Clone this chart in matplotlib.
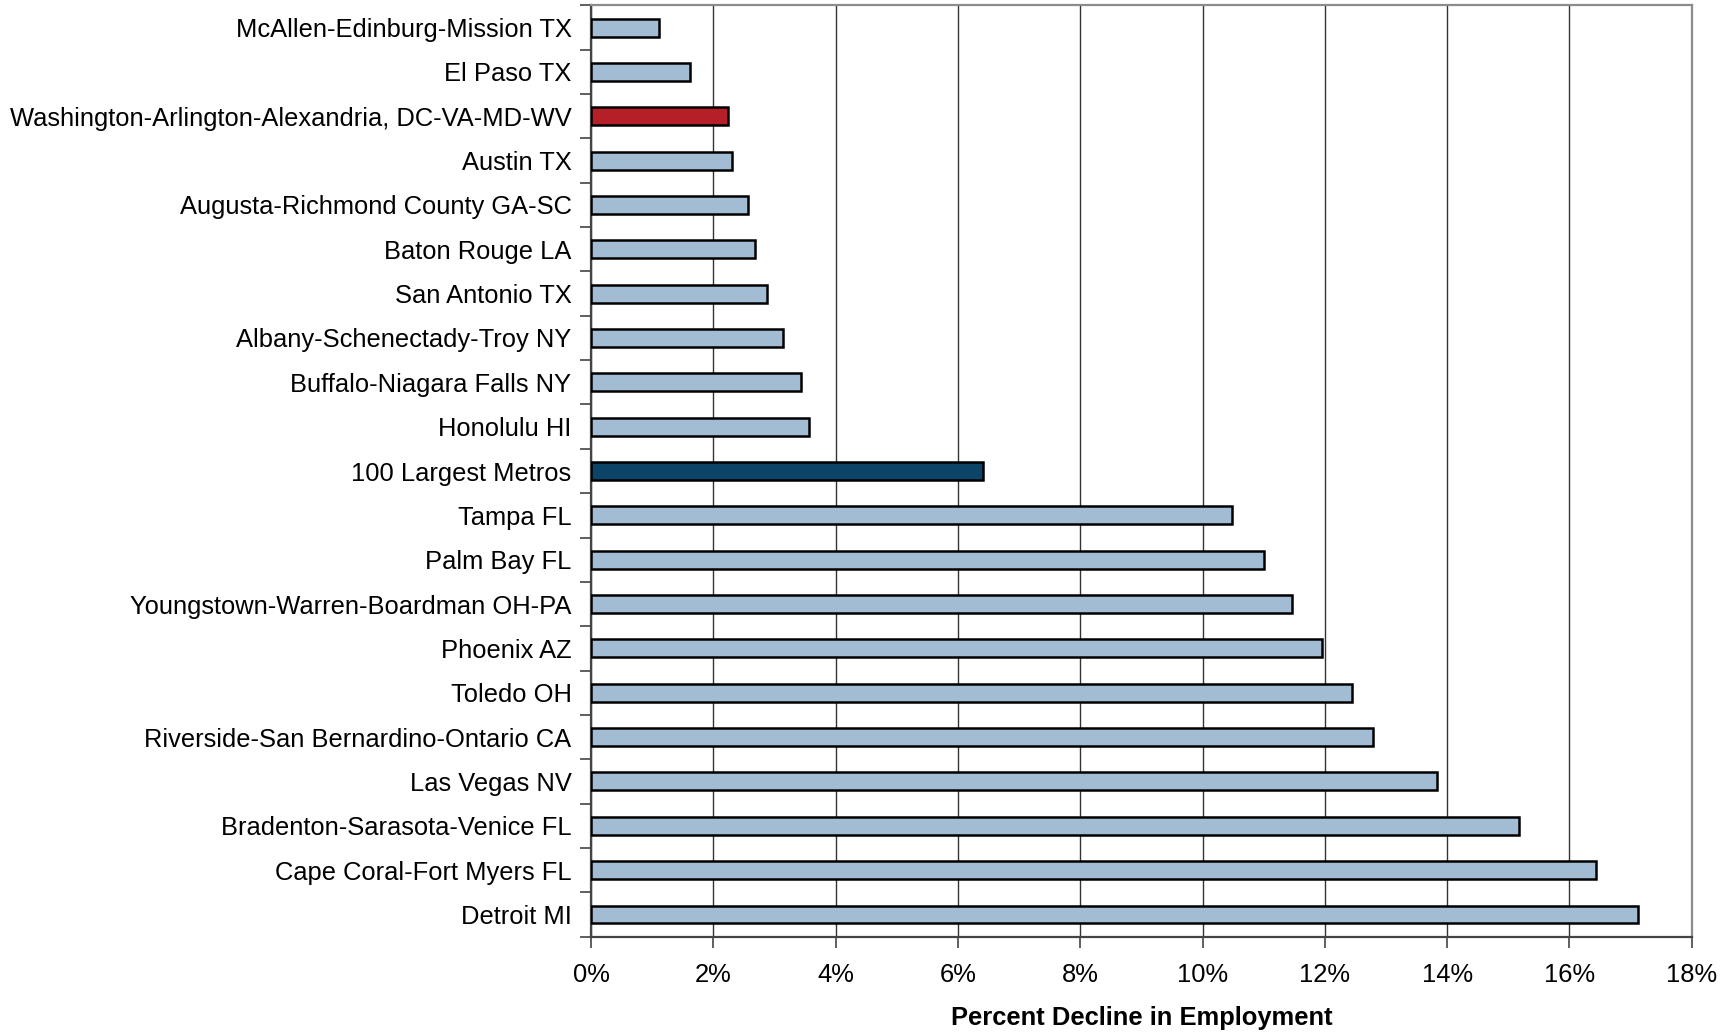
import matplotlib
matplotlib.use('Agg')
import matplotlib.pyplot as plt
import numpy as np

plt.rcParams['font.family'] = ['Liberation Sans', 'DejaVu Sans']

metros = ['McAllen-Edinburg-Mission TX', 'El Paso TX',
          'Washington-Arlington-Alexandria, DC-VA-MD-WV', 'Austin TX',
          'Augusta-Richmond County GA-SC', 'Baton Rouge LA', 'San Antonio TX',
          'Albany-Schenectady-Troy NY', 'Buffalo-Niagara Falls NY', 'Honolulu HI',
          '100 Largest Metros', 'Tampa FL', 'Palm Bay FL',
          'Youngstown-Warren-Boardman OH-PA', 'Phoenix AZ', 'Toledo OH',
          'Riverside-San Bernardino-Ontario CA', 'Las Vegas NV',
          'Bradenton-Sarasota-Venice FL', 'Cape Coral-Fort Myers FL', 'Detroit MI']
decline = [1.11, 1.62, 2.24, 2.30, 2.57, 2.69, 2.87, 3.14, 3.43, 3.57,
           6.41, 10.48, 11.00, 11.47, 11.95, 12.44, 12.78, 13.84, 15.18, 16.44, 17.12]
xticks = [0, 2, 4, 6, 8, 10, 12, 14, 16, 18]

colors = []
for m in metros:
    if m.startswith('Washington'):
        colors.append('#B51F28')
    elif m == '100 Largest Metros':
        colors.append('#0B4466')
    else:
        colors.append('#A2BCD4')

fig = plt.figure(figsize=(17.21, 10.32), dpi=100)
ax = fig.add_axes([0.3434, 0.0925, 0.6396, 0.9022])

y = np.arange(len(metros))
ax.barh(y, decline, height=0.4, color=colors, edgecolor='black', linewidth=1.8, zorder=3)

ax.set_ylim(len(metros) - 0.5, -0.5)
ax.set_xlim(0, 18)
ax.set_xticks(xticks)
ax.set_xticklabels([f'{t}%' for t in xticks], fontsize=18.4)
ax.set_yticks(y)
ax.set_yticklabels(metros, fontsize=18.4)
ax.set_yticks(np.arange(len(metros) + 1) - 0.5, minor=True)
ax.tick_params(axis='y', which='major', length=0, pad=14)
ax.tick_params(axis='y', which='minor', length=8, width=1.2, color='#444444')
ax.tick_params(axis='x', length=8, width=1.2, color='#444444', pad=11)

ax.xaxis.grid(True, color='#333333', linewidth=1.0, zorder=0)
ax.set_axisbelow(True)

for s in ['top', 'right']:
    ax.spines[s].set_color('#8C8C8C')
    ax.spines[s].set_linewidth(1.6)
for s in ['left', 'bottom']:
    ax.spines[s].set_color('#444444')
    ax.spines[s].set_linewidth(1.6)

ax.set_xlabel('Percent Decline in Employment', fontsize=18.4, fontweight='bold', labelpad=14)

fig.savefig('out.png', dpi=100)
